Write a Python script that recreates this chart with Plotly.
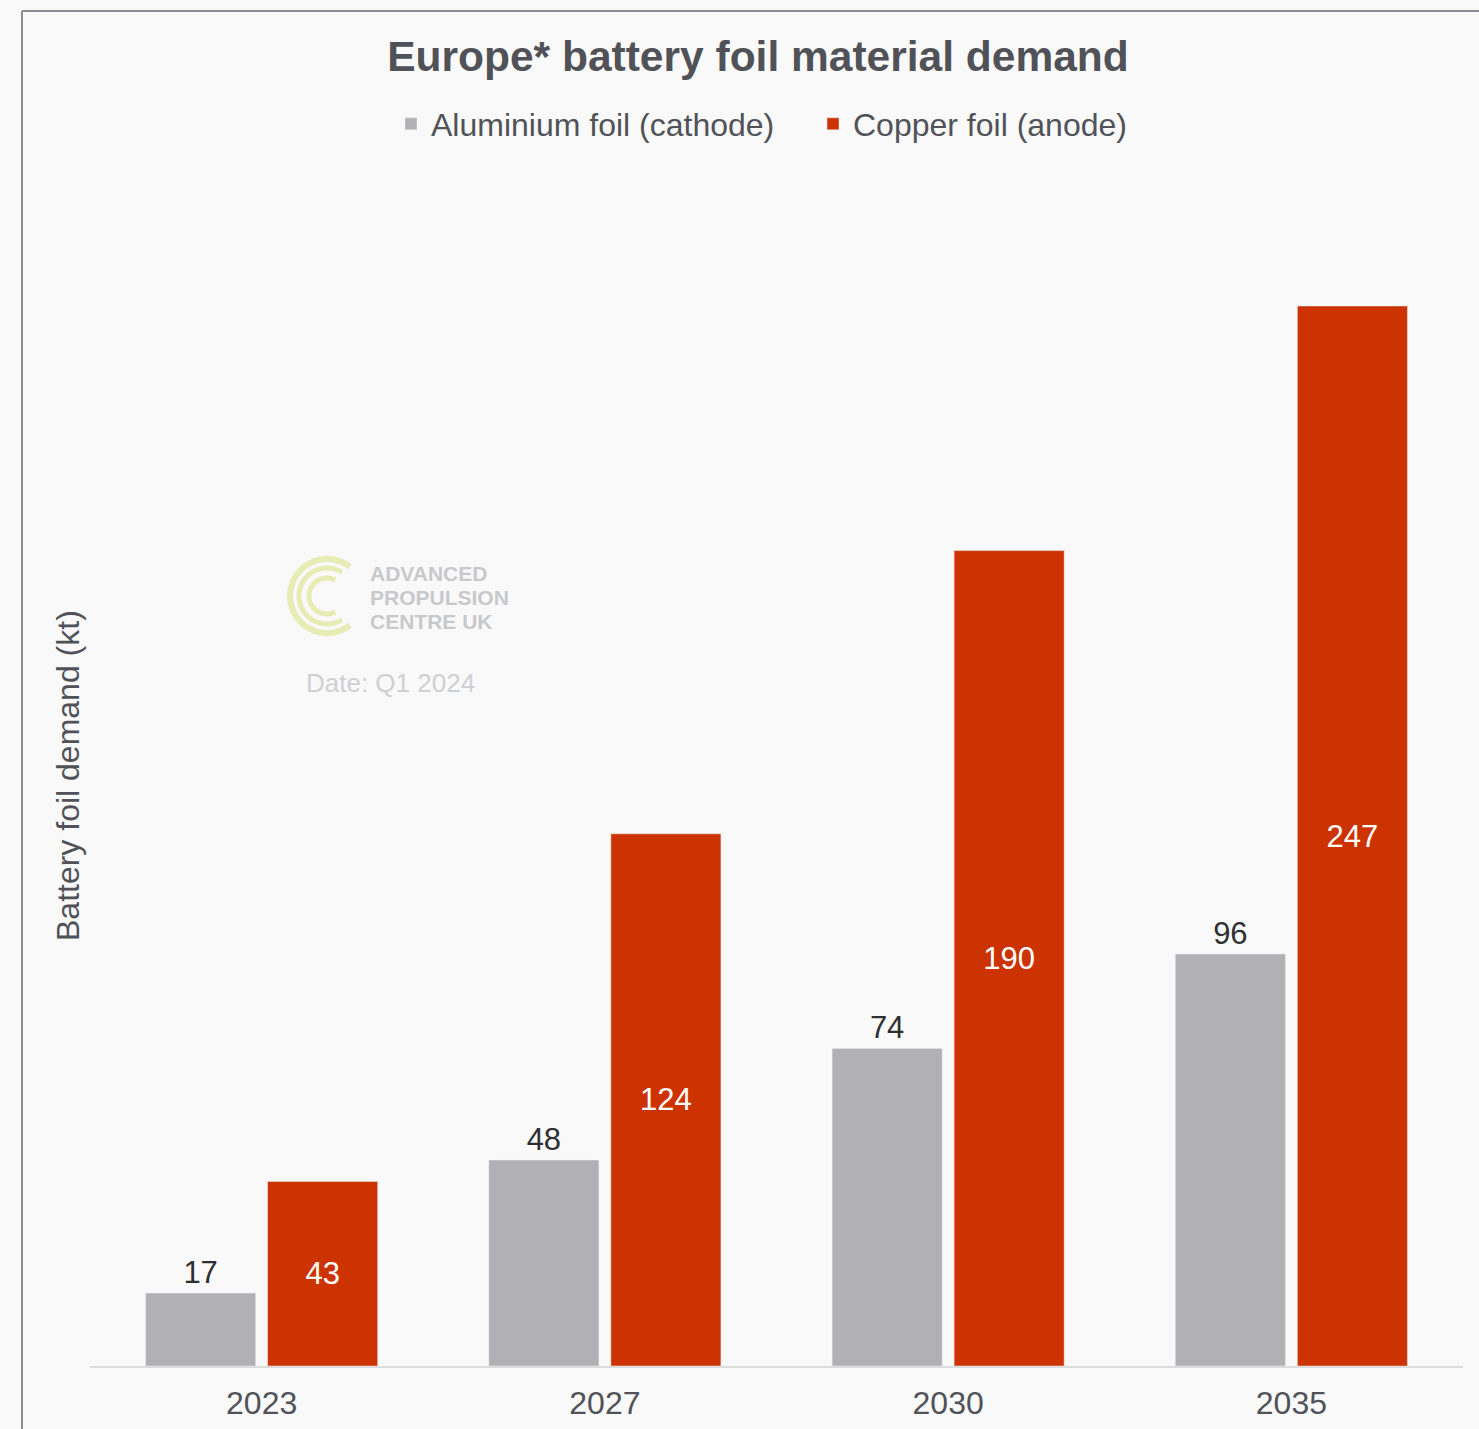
import numpy as np
import plotly.graph_objects as go

# ---- data ----
years = ["2023", "2027", "2030", "2035"]
aluminium = [17, 48, 74, 96]
copper = [43, 124, 190, 247]
series_names = ["Aluminium foil (cathode)", "Copper foil (anode)"]
title_text = "Europe* battery foil material demand"
y_title = "Battery foil demand (kt)"
watermark_lines = ["ADVANCED", "PROPULSION", "CENTRE UK"]
date_text = "Date: Q1 2024"

# ---- layout geometry ----
W, H = 1479, 1429
L, R, T, B = 90, 16, 170, 63
plot_w = W - L - R
plot_h = H - T - B
px_per_unit = 1060 / 247.0
ymax = plot_h / px_per_unit

def px(x):
    return (x - L) / plot_w

def py(y):
    return (H - B - y) / plot_h

GRAY = "#b1b1b5"
RED = "#cd3300"
TXT = "#505258"
BG = "#f9f9f9"

fig = go.Figure()
fig.add_trace(go.Bar(
    x=years, y=aluminium, name=series_names[0], marker_color=GRAY,
    text=[str(v) for v in aluminium], textposition="outside",
    textfont=dict(size=31, color="#2e2f33"), cliponaxis=False,
))
fig.add_trace(go.Bar(
    x=years, y=copper, name=series_names[1], marker_color=RED,
    text=[str(v) for v in copper], textposition="inside",
    insidetextanchor="middle",
    textfont=dict(size=31, color="#ffffff"), cliponaxis=False,
))

# logo arcs (decoration)
def arc_path(r, a0, a1, n=60):
    angs = np.radians(np.linspace(a0, a1, n))
    pts = [f"{r*np.cos(a):.2f},{r*np.sin(a):.2f}" for a in angs]
    return "M" + " L".join(pts)

logo_cx, logo_cy = 327, 596
shapes = []
for r, a, w in [(37, 52, 6), (28, 58, 5), (18, 62, 5)]:
    shapes.append(dict(
        type="path", xref="paper", yref="paper",
        xsizemode="pixel", ysizemode="pixel",
        xanchor=px(logo_cx), yanchor=py(logo_cy),
        path=arc_path(r, a, 360 - a),
        line=dict(color="#e6ecb4", width=w), layer="below",
    ))

# outer frame lines (top and left)
shapes.append(dict(type="line", xref="paper", yref="paper",
                   x0=px(22), x1=px(W + 5), y0=py(11), y1=py(11),
                   line=dict(color="#8c8d92", width=2)))
shapes.append(dict(type="line", xref="paper", yref="paper",
                   x0=px(22), x1=px(22), y0=py(11), y1=py(H + 5),
                   line=dict(color="#8c8d92", width=2)))

annotations = []
for i, line in enumerate(watermark_lines):
    annotations.append(dict(
        text=line, xref="paper", yref="paper",
        x=px(369), y=py(573 + 24 * i), xanchor="left", yanchor="middle",
        showarrow=False, borderpad=0,
        font=dict(family="Liberation Sans, Arial", size=21, color="#c8c9cd",
                  weight="bold")))
annotations += [
    dict(text=date_text, xref="paper", yref="paper",
         x=px(390), y=py(683), xanchor="center", yanchor="middle",
         showarrow=False,
         font=dict(family="Liberation Sans, Arial", size=26, color="#cfd0d4")),
    dict(text=y_title, xref="paper", yref="paper",
         x=px(68), y=py(776), xanchor="center", yanchor="middle",
         textangle=-90, showarrow=False,
         font=dict(family="Liberation Sans, Arial", size=32, color=TXT)),
]

fig.update_layout(
    width=W, height=H,
    margin=dict(l=L, r=R, t=T, b=B, pad=0, autoexpand=False),
    paper_bgcolor=BG, plot_bgcolor=BG,
    font=dict(family="Liberation Sans, Arial", color=TXT),
    barmode="group", bargap=0.289, bargroupgap=0.098,
    title=dict(text="<b>" + title_text + "</b>", xref="paper",
               x=px(758), xanchor="center",
               yref="container", y=1 - 56 / H, yanchor="middle",
               font=dict(size=42.5, color=TXT)),
    legend=dict(orientation="h", xref="paper", yref="paper",
                x=px(813), xanchor="center", y=py(124), yanchor="middle",
                font=dict(size=32, color=TXT), bgcolor="rgba(0,0,0,0)",
                traceorder="normal", entrywidth=377, entrywidthmode="pixels"),
    xaxis=dict(showline=True, linecolor="#dcdcdc", linewidth=2,
               showgrid=False, ticks="", tickfont=dict(size=32, color=TXT),
               ticklabelstandoff=8, automargin=False),
    yaxis=dict(range=[0, ymax], visible=False, showgrid=False,
               automargin=False),
    shapes=shapes, annotations=annotations,
)

fig.write_html(
    "out.html",
    config={"displayModeBar": False},
    post_script=(
        "document.documentElement.style.margin='0';"
        "document.documentElement.style.overflow='hidden';"
        "document.body.style.margin='0';"
        "document.body.style.overflow='hidden';"
        "document.body.style.background='#f9f9f9';"
        "var gd=document.getElementsByClassName('plotly-graph-div')[0];"
        "gd.style.position='fixed';gd.style.left='0px';gd.style.top='0px';"
    ),
)
